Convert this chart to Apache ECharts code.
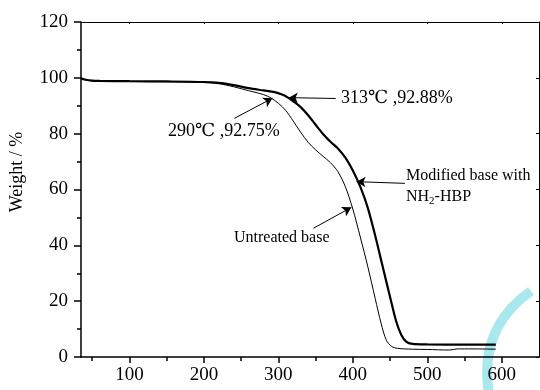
<!DOCTYPE html>
<html>
<head>
<meta charset="utf-8">
<script src="https://cdn.jsdelivr.net/npm/echarts@6/dist/echarts.min.js"></script>
<style>
  html, body { margin: 0; padding: 0; background: #fff; }
  #tga { width: 540px; height: 390px; }
</style>
</head>
<body>
<div id="tga"></div>
<script>
// TGA curves, [temperature, weight %]
var modifiedBase = [
  [35, 99.8], [40, 99.4], [50, 99.0], [60, 98.9], [100, 98.8], [150, 98.7],
  [200, 98.5], [220, 98.2], [240, 97.4], [260, 96.3], [280, 95.5], [295, 94.9],
  [305, 94.0], [313, 92.9], [320, 91.6], [330, 89.5], [340, 86.6], [350, 83.2],
  [360, 79.9], [370, 77.1], [380, 74.7], [390, 71.4], [400, 66.8], [410, 61.0],
  [420, 53.5], [430, 43.5], [440, 32.5], [450, 21.5], [458, 13.0], [465, 8.0],
  [472, 5.4], [480, 4.7], [500, 4.5], [550, 4.4], [592, 4.4]
];
var untreatedBase = [
  [35, 99.8], [40, 99.3], [50, 98.9], [60, 98.8], [100, 98.7], [150, 98.6],
  [200, 98.3], [220, 97.9], [240, 96.8], [260, 95.4], [280, 94.0], [290, 92.8],
  [300, 90.9], [310, 88.3], [320, 84.5], [330, 80.5], [340, 76.9], [350, 74.2],
  [360, 71.9], [370, 69.6], [380, 66.4], [390, 61.0], [400, 53.0], [410, 43.0],
  [420, 32.5], [430, 21.0], [438, 12.0], [445, 6.0], [452, 3.8], [460, 3.1],
  [480, 2.8], [500, 2.7], [530, 2.5], [540, 2.9], [560, 2.9], [592, 2.8]
];
var xTicks = [100, 200, 300, 400, 500, 600];
var xMinorTicks = [50, 150, 250, 350, 450, 550];
// arrow start -> arrow tip (data coords)
var arrows = [
  [[377, 92.6], [314, 92.9]],
  [[241, 85.5], [292, 92.7]],
  [[470, 62.2], [405, 62.8]],
  [[347, 46.1], [398, 53.6]]
];

var serif = '"Liberation Serif", "DejaVu Serif", "Noto Sans CJK SC", serif';
var black = '#000';

var myChart = echarts.init(document.getElementById('tga'), null, { renderer: 'canvas' });

var option = {
  backgroundColor: '#fff',
  animation: false,
  grid: { left: 81, top: 22, right: 1, bottom: 33 },
  xAxis: [{
    type: 'value', min: 35, max: 650, splitNumber: 6, position: 'bottom',
    axisLine: { lineStyle: { color: black, width: 1.5 } },
    axisTick: { customValues: xTicks, length: 6, lineStyle: { color: black, width: 1.5 } },
    axisLabel: { customValues: xTicks, color: black, fontSize: 19, fontFamily: serif, margin: 9 },
    splitLine: { show: false }
  }, {
    type: 'value', min: 35, max: 650, position: 'bottom',
    axisLine: { show: false },
    axisTick: { customValues: xMinorTicks, length: 4, lineStyle: { color: black, width: 1.5 } },
    axisLabel: { show: false },
    splitLine: { show: false }
  }, {
    type: 'value', min: 35, max: 650, position: 'top',
    axisLine: { lineStyle: { color: black, width: 1 } },
    axisTick: { customValues: xTicks, inside: true, length: 2, lineStyle: { color: black } },
    axisLabel: { show: false },
    splitLine: { show: false }
  }],
  yAxis: [{
    type: 'value', min: 0, max: 120, interval: 20, position: 'left',
    axisLine: { show: true, lineStyle: { color: black, width: 1.5 } },
    axisTick: { show: true, length: 7, lineStyle: { color: black, width: 1.5 } },
    minorTick: { show: true, splitNumber: 2, length: 4, lineStyle: { color: black, width: 1.5 } },
    axisLabel: { color: black, fontSize: 19, fontFamily: serif, margin: 13 },
    splitLine: { show: false }
  }, {
    type: 'value', min: 0, max: 120, interval: 20, position: 'right',
    axisLine: { show: true, lineStyle: { color: black, width: 1 } },
    axisTick: { show: true, inside: true, length: 3, lineStyle: { color: black } },
    axisLabel: { show: false },
    splitLine: { show: false }
  }],
  series: [{
    name: 'Modified base with NH2-HBP',
    type: 'line',
    data: modifiedBase,
    symbol: 'none',
    smooth: 0.3,
    lineStyle: { color: black, width: 2.2 },
    markLine: {
      silent: true,
      symbol: ['none', 'arrow'],
      symbolSize: [8, 9],
      label: { show: false },
      lineStyle: { color: black, width: 1, type: 'solid' },
      data: arrows.map(function (a) {
        return [{ coord: a[0] }, { coord: a[1] }];
      })
    }
  }, {
    name: 'Untreated base',
    type: 'line',
    data: untreatedBase,
    symbol: 'none',
    smooth: 0.3,
    lineStyle: { color: black, width: 1 }
  }],
  graphic: [
    { type: 'bezierCurve', z: -10,
      shape: { x1: 531, y1: 291, cpx1: 478, cpy1: 328, x2: 489, y2: 394 },
      style: { stroke: '#a9e9ee', lineWidth: 10, fill: null } },
    { type: 'text', x: 17, y: 172, rotation: Math.PI / 2,
      style: { text: 'Weight / %', fill: black, font: '18px ' + serif, textAlign: 'center', textVerticalAlign: 'middle' } },
    { type: 'text', x: 341, y: 98,
      style: { text: '313\u2103 ,92.88%', fill: black, font: '18px ' + serif, textVerticalAlign: 'middle' } },
    { type: 'text', x: 168, y: 131,
      style: { text: '290\u2103 ,92.75%', fill: black, font: '18px ' + serif, textVerticalAlign: 'middle' } },
    { type: 'text', x: 406, y: 176,
      style: { text: 'Modified base with', fill: black, font: '16px ' + serif, textVerticalAlign: 'middle' } },
    { type: 'text', x: 406, y: 197,
      style: {
        text: '{n|NH}{s|2}{n|-HBP}', fill: black, textVerticalAlign: 'middle',
        rich: {
          n: { fontSize: 16, fontFamily: serif, lineHeight: 20, verticalAlign: 'middle' },
          s: { fontSize: 11, fontFamily: serif, lineHeight: 12, verticalAlign: 'bottom' }
        }
      } },
    { type: 'text', x: 234, y: 238,
      style: { text: 'Untreated base', fill: black, font: '16px ' + serif, textVerticalAlign: 'middle' } }
  ]
};

myChart.setOption(option);
window.addEventListener('resize', myChart.resize);
</script>
</body>
</html>
